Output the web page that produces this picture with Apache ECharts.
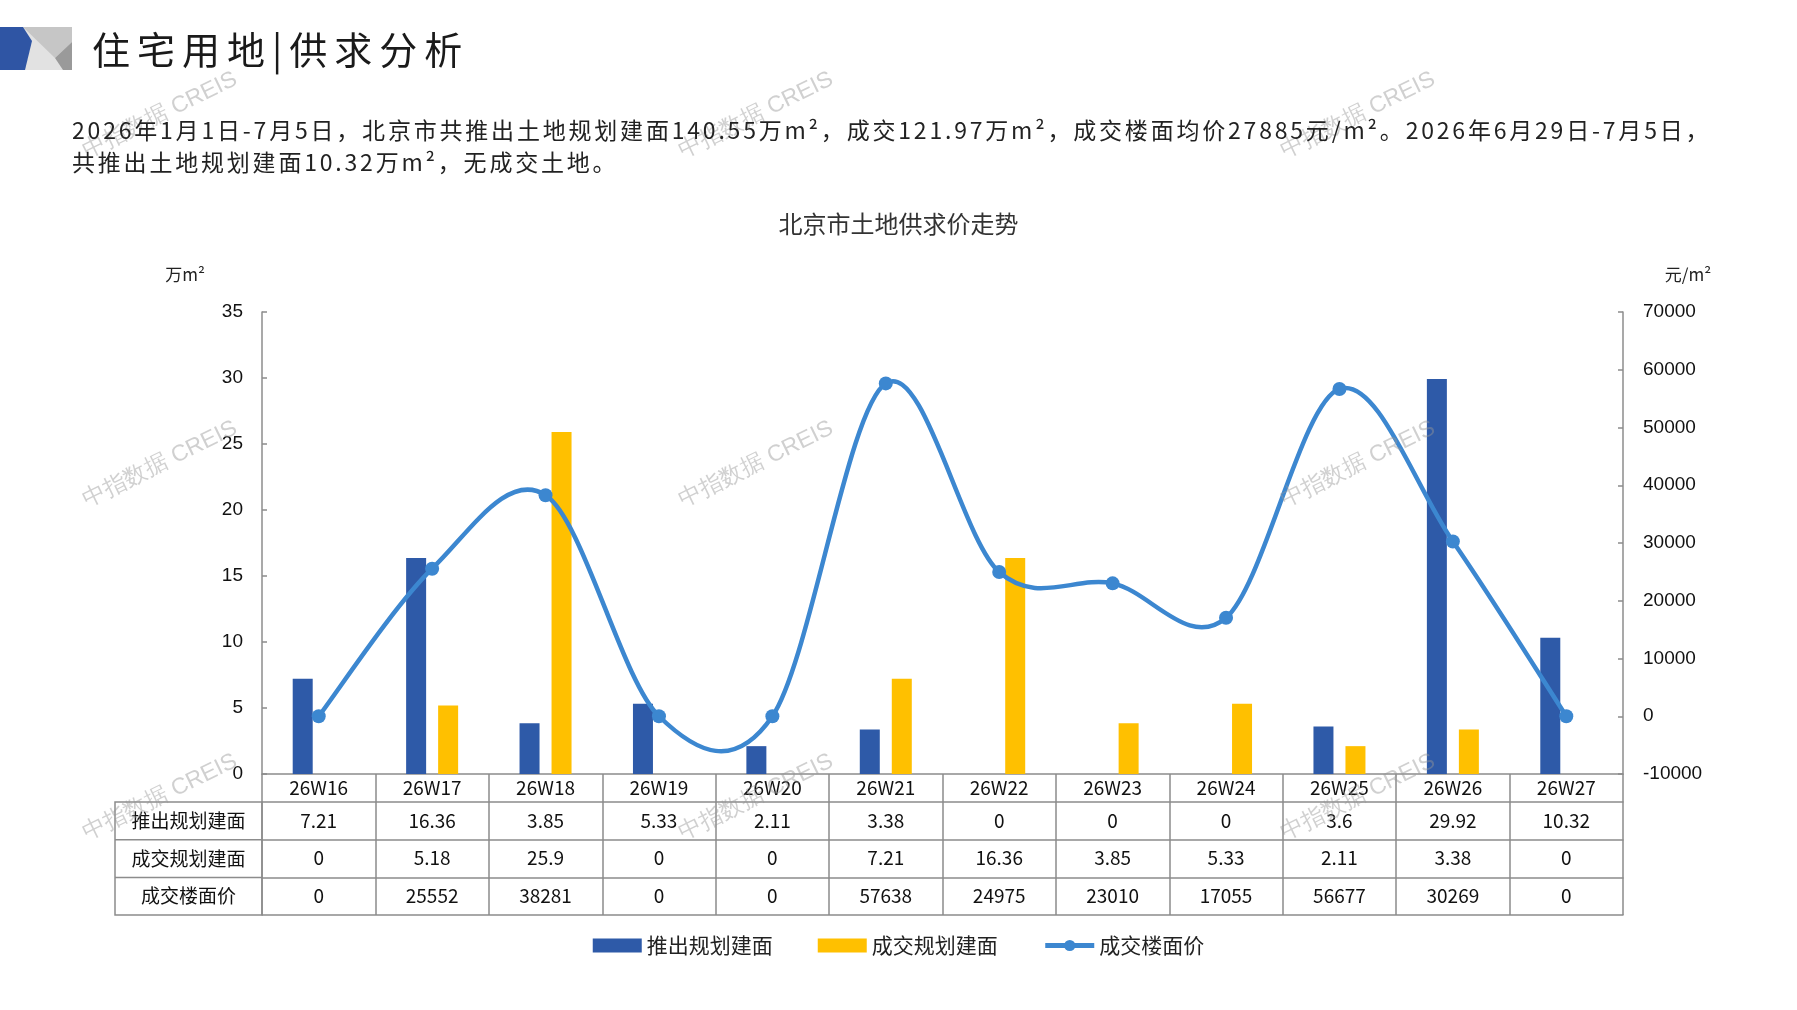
<!DOCTYPE html>
<html>
<head>
<meta charset="utf-8">
<script src="https://cdn.jsdelivr.net/npm/echarts@6/dist/echarts.min.js"></script>
<style>
  html, body { margin: 0; padding: 0; background: #fff; }
  #main { width: 1797px; height: 1010px; }
  .txt { position: absolute; font-family: 'Noto Sans CJK SC', sans-serif; color: #222; white-space: nowrap; pointer-events: none; }
  #head { left: 92px; top: 25px; font-size: 38px; line-height: 46px; letter-spacing: 7px; color: #1a1a1a; }
  #para { left: 72px; top: 113px; font-size: 23px; line-height: 32px; letter-spacing: 2.8px; }
</style>
</head>
<body>
<div id="main"></div>
<div class="txt" id="head">住宅用地|供求分析</div>
<div class="txt" id="para">2026年1月1日-7月5日，北京市共推出土地规划建面140.55万m²，成交121.97万m²，成交楼面均价27885元/m²。2026年6月29日-7月5日，<br>共推出土地规划建面10.32万m²，无成交土地。</div>
<script>
// 数据
const weeks = ['26W16', '26W17', '26W18', '26W19', '26W20', '26W21', '26W22', '26W23', '26W24', '26W25', '26W26', '26W27'];
const pushed = [7.21, 16.36, 3.85, 5.33, 2.11, 3.38, 0, 0, 0, 3.6, 29.92, 10.32];
const sold = [0, 5.18, 25.9, 0, 0, 7.21, 16.36, 3.85, 5.33, 2.11, 3.38, 0];
const price = [0, 25552, 38281, 0, 0, 57638, 24975, 23010, 17055, 56677, 30269, 0];
const rowNames = ['推出规划建面', '成交规划建面', '成交楼面价'];
// 坐标轴刻度
const areaMin = 0, areaMax = 35, areaStep = 5;
const priceMin = -10000, priceMax = 70000, priceStep = 10000;

// 布局
const gridL = 262, gridR = 1623, gridT = 312, gridB = 774;
const weekRowH = 28, rowH = 37.7;
const headL = 115;
const lineColor = '#8c8c8c';
const priceColor = '#3c87d0';
const cjk = 'Noto Sans CJK SC';

const myChart = echarts.init(document.getElementById('main'));

// 表格的每一行用一个 x 轴画（刻度当竖线）
const rows = [pushed, sold, price];
const xAxes = [{
  type: 'category',
  data: weeks,
  position: 'bottom',
  axisLine: { onZero: false, lineStyle: { color: lineColor, width: 1.5 } },
  axisTick: { show: true, interval: 0, length: weekRowH, lineStyle: { color: lineColor, width: 1.5 } },
  axisLabel: { interval: 0, margin: 4, fontSize: 19, color: '#111', fontFamily: cjk }
}];
rows.forEach((row, k) => {
  xAxes.push({
    type: 'category',
    data: weeks,
    position: 'bottom',
    offset: weekRowH + rowH * k,
    axisLine: { onZero: false, lineStyle: { color: lineColor, width: 1.5 } },
    axisTick: { show: true, interval: 0, length: rowH, lineStyle: { color: lineColor, width: 1.5 } },
    axisLabel: {
      interval: 0, margin: 9, fontSize: 19, color: '#111', fontFamily: cjk,
      formatter: (v, i) => String(row[i])
    }
  });
});
// 表格底线
xAxes.push({
  type: 'category',
  data: weeks,
  position: 'bottom',
  offset: weekRowH + rowH * 3,
  axisLine: { onZero: false, lineStyle: { color: lineColor, width: 1.5 } },
  axisTick: { show: false },
  axisLabel: { show: false }
});

// 左侧表头 + 水印 + 左上角装饰
const graphics = [
  { type: 'polygon', shape: { points: [[0, 27], [72, 27], [72, 70], [0, 70]] }, style: { fill: '#e2e2e2' } },
  { type: 'polygon', shape: { points: [[23, 27], [72, 27], [72, 42], [55, 58]] }, style: { fill: '#c6c6c6' } },
  { type: 'polygon', shape: { points: [[55, 58], [72, 42], [72, 70], [63, 70]] }, style: { fill: '#9a9a9a' } },
  { type: 'polygon', shape: { points: [[0, 27], [23, 27], [32, 41], [25, 70], [0, 70]] }, style: { fill: '#2f55a4' } },
  { type: 'text', x: 185, y: 275, style: { text: '万m²', fontSize: 17, fontFamily: cjk, fill: '#222', align: 'center', verticalAlign: 'middle' } },
  { type: 'text', x: 1688, y: 275, style: { text: '元/m²', fontSize: 17, fontFamily: cjk, fill: '#222', align: 'center', verticalAlign: 'middle' } },
  {
    type: 'rect',
    shape: { x: headL, y: gridB + weekRowH, width: gridL - headL, height: rowH * 3 },
    style: { fill: 'none', stroke: lineColor, lineWidth: 1.5 }
  }
];
for (let k = 1; k < 3; k++) {
  const y = gridB + weekRowH + rowH * k;
  graphics.push({ type: 'line', shape: { x1: headL, y1: y, x2: gridL, y2: y }, style: { stroke: lineColor, lineWidth: 1.5 } });
}
rowNames.forEach((name, k) => {
  graphics.push({
    type: 'text',
    x: (headL + gridL) / 2,
    y: gridB + weekRowH + rowH * k + rowH / 2,
    style: { text: name, fontSize: 19, fontFamily: cjk, fill: '#111', align: 'center', verticalAlign: 'middle' }
  });
});
[115, 464, 797].forEach(wy => {
  [160, 756, 1358].forEach(wx => {
    graphics.push({
      type: 'text', x: wx, y: wy, rotation: 26 * Math.PI / 180, z: 100,
      style: { text: '中指数据 CREIS', fontSize: 23, fontFamily: 'Liberation Sans', fill: 'rgba(150,150,150,0.45)', align: 'center', verticalAlign: 'middle' }
    });
  });
});

// 平滑曲线（类似 Excel 的平滑线），逐段用三次贝塞尔画，坐标由 api.coord 换算
function renderCurve(params, api) {
  const i = params.dataIndex;
  const n = price.length;
  if (i >= n - 1) return null;
  const pt = j => {
    const k = Math.max(0, Math.min(n - 1, j));
    return api.coord([k, price[k]]);
  };
  const p0 = pt(i - 1), p1 = pt(i), p2 = pt(i + 1), p3 = pt(i + 2);
  return {
    type: 'bezierCurve',
    shape: {
      x1: p1[0], y1: p1[1], x2: p2[0], y2: p2[1],
      cpx1: p1[0] + (p2[0] - p0[0]) / 6, cpy1: p1[1] + (p2[1] - p0[1]) / 6,
      cpx2: p2[0] - (p3[0] - p1[0]) / 6, cpy2: p2[1] - (p3[1] - p1[1]) / 6
    },
    style: { stroke: priceColor, lineWidth: 4.5, fill: 'none' }
  };
}

const option = {
  animation: false,
  title: {
    text: '北京市土地供求价走势',
    left: 'center',
    top: 207,
    textStyle: { fontSize: 24, fontWeight: 'normal', color: '#333', fontFamily: cjk }
  },
  legend: {
    top: 930,
    left: 'center',
    itemWidth: 49,
    itemHeight: 14,
    itemGap: 45,
    textStyle: { fontSize: 21, color: '#222', fontFamily: cjk },
    data: [
      { name: '推出规划建面', icon: 'rect' },
      { name: '成交规划建面', icon: 'rect' },
      { name: '成交楼面价', lineStyle: { opacity: 1, width: 5, color: priceColor } }
    ]
  },
  grid: { left: gridL, right: 1797 - gridR, top: gridT, bottom: 1010 - gridB, containLabel: false },
  xAxis: xAxes,
  yAxis: [
    {
      type: 'value',
      min: areaMin, max: areaMax, interval: areaStep,
      position: 'left',
      axisLine: { show: true, lineStyle: { color: lineColor, width: 1.5 } },
      axisTick: { show: true, inside: true, length: 5, lineStyle: { color: lineColor, width: 1.5 } },
      splitLine: { show: false },
      axisLabel: { margin: 19, fontSize: 19, color: '#111', fontFamily: 'Liberation Sans' }
    },
    {
      type: 'value',
      min: priceMin, max: priceMax, interval: priceStep,
      position: 'right',
      axisLine: { show: true, lineStyle: { color: lineColor, width: 1.5 } },
      axisTick: { show: true, inside: true, length: 5, lineStyle: { color: lineColor, width: 1.5 } },
      splitLine: { show: false },
      axisLabel: { margin: 20, fontSize: 19, color: '#111', fontFamily: 'Liberation Sans', formatter: v => String(v) }
    }
  ],
  graphic: graphics,
  series: [
    {
      name: '推出规划建面',
      type: 'bar',
      data: pushed,
      barWidth: 20,
      barGap: '60%',
      itemStyle: { color: '#2e5aa8' }
    },
    {
      name: '成交规划建面',
      type: 'bar',
      data: sold,
      barWidth: 20,
      itemStyle: { color: '#ffc000' }
    },
    {
      // 点和图例；线本身由下面的自定义系列画
      name: '成交楼面价',
      type: 'line',
      yAxisIndex: 1,
      data: price,
      symbol: 'circle',
      symbolSize: 14,
      z: 6,
      lineStyle: { width: 4.5, color: priceColor, opacity: 0 },
      itemStyle: { color: priceColor }
    },
    {
      name: '成交楼面价',
      type: 'custom',
      yAxisIndex: 1,
      z: 5,
      data: price.map((v, i) => [i, v]),
      encode: { x: 0, y: 1 },
      renderItem: renderCurve
    }
  ]
};

option && myChart.setOption(option);
</script>
</body>
</html>
